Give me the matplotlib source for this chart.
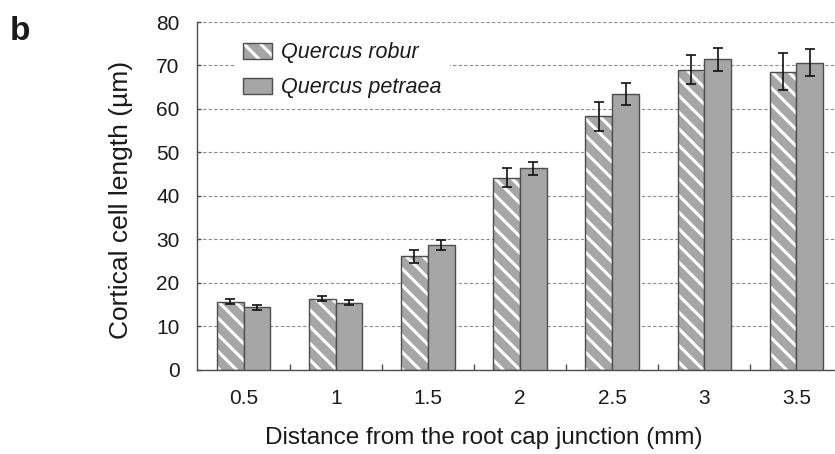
import numpy as np
import matplotlib
matplotlib.use('Agg')
import matplotlib.pyplot as plt
from matplotlib.patches import Patch

# distances along the root (mm)
distances = ['0.5', '1', '1.5', '2', '2.5', '3', '3.5']

# cortical cell length (um), mean and error
robur = [15.6, 16.3, 26.1, 44.2, 58.3, 69.0, 68.6]
robur_err = [0.6, 0.6, 1.5, 2.2, 3.3, 3.3, 4.3]
petraea = [14.3, 15.4, 28.7, 46.3, 63.5, 71.4, 70.6]
petraea_err = [0.5, 0.5, 1.2, 1.5, 2.5, 2.6, 3.1]

plt.rcParams['font.family'] = ['Liberation Sans', 'DejaVu Sans']
plt.rcParams['hatch.linewidth'] = 2.2

fill = '#a6a6a6'
edge = '#4d4d4d'
txt = '#1a1a1a'

fig = plt.figure(figsize=(8.35, 4.54), dpi=100)
ax = fig.add_axes([0.2365, 0.186, 0.7725, 0.7655])

x = np.arange(len(distances))
w = 0.29

# hatched bars: gray fill with white stripes, then the outline on top
ax.bar(x - w / 2, robur, w, color=fill, edgecolor='white', hatch='\\\\', linewidth=0, zorder=2)
ax.bar(x - w / 2, robur, w, facecolor='none', edgecolor=edge, linewidth=1.0, zorder=3)
ax.bar(x + w / 2, petraea, w, color=fill, edgecolor=edge, linewidth=1.0, zorder=3)

ax.errorbar(x - w / 2, robur, yerr=robur_err, fmt='none', ecolor='#111111',
            elinewidth=1.2, capsize=3.5, capthick=1.2, zorder=4)
ax.errorbar(x + w / 2, petraea, yerr=petraea_err, fmt='none', ecolor='#111111',
            elinewidth=1.2, capsize=3.5, capthick=1.2, zorder=4)

ax.set_xlim(-0.5, len(distances) - 0.5)
ax.set_ylim(0, 80)
ax.set_yticks(range(0, 81, 10))
ax.yaxis.grid(True, color='#8c8c8c', linestyle=(0, (3, 2)), linewidth=0.8, zorder=0)
ax.set_axisbelow(True)

ax.set_xticks(x)
ax.set_xticklabels(distances)
ax.set_xticks(np.arange(0.5, len(distances) - 0.5, 1), minor=True)
ax.tick_params(axis='x', which='major', length=0, pad=14, labelsize=15, labelcolor=txt)
ax.tick_params(axis='x', which='minor', direction='in', length=4, width=1, color=edge)
ax.tick_params(axis='y', direction='in', length=3, width=1, color=edge, pad=13,
               labelsize=15, labelcolor=txt)

for s in ['top', 'right']:
    ax.spines[s].set_visible(False)
for s in ['left', 'bottom']:
    ax.spines[s].set_color(edge)
    ax.spines[s].set_linewidth(1.0)

ax.set_xlabel('Distance from the root cap junction (mm)', fontsize=17.5, color=txt)
ax.xaxis.set_label_coords(0.444, -0.165)
ax.set_ylabel('Cortical cell length (µm)', fontsize=19, color=txt)
ax.yaxis.set_label_coords(-0.1, 0.488)

h1 = (Patch(facecolor=fill, edgecolor='white', hatch='\\\\', linewidth=0),
      Patch(facecolor='none', edgecolor=edge, linewidth=1.0))
h2 = Patch(facecolor=fill, edgecolor=edge, linewidth=1.0)
leg = ax.legend([h1, h2], ['Quercus robur', 'Quercus petraea'],
                loc='upper left', bbox_to_anchor=(0.041, 0.997),
                prop={'style': 'italic', 'size': 15.5},
                handlelength=1.35, handleheight=0.8, handletextpad=0.4,
                labelspacing=0.65, borderpad=0.4,
                frameon=True, fancybox=False, framealpha=1,
                facecolor='white', edgecolor='none')
for t in leg.get_texts():
    t.set_color(txt)

fig.text(0.012, 0.965, 'b', fontsize=24, fontweight='bold', va='top', ha='left', color=txt)

fig.savefig('out.png', dpi=100)
